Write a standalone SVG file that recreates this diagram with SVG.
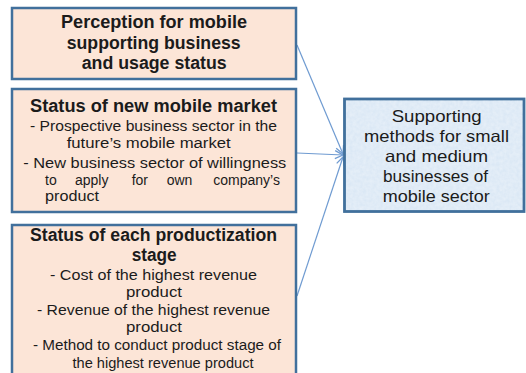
<svg xmlns="http://www.w3.org/2000/svg" width="526" height="373" viewBox="0 0 526 373">
  <style>
    .box { fill: #fce5d7; stroke: #41709c; stroke-width: 2.5; }
    .goal { fill: #dbe8f5; stroke: #41709c; stroke-width: 2.8; }
    text { font-family: "Liberation Sans", Arial, sans-serif; fill: #1b1b1b; }
    .hd { font-size: 17.5px; font-weight: bold; }
    .bd { font-size: 14px; }
    .gl { font-size: 16.5px; }
    .link { stroke: #6f9bd1; stroke-width: 1.2; fill: none; marker-end: url(#arrow); }
  </style>
  <defs>
    <marker id="arrow" markerUnits="userSpaceOnUse" markerWidth="12" markerHeight="12" refX="9" refY="5" orient="auto">
      <path d="M1,1 L9,5 L1,9" fill="none" stroke="#6f9bd1" stroke-width="1.3"/>
    </marker>
    <filter id="grain" x="0" y="0" width="100%" height="100%">
      <feTurbulence type="fractalNoise" baseFrequency="0.3" numOctaves="2" seed="4" result="n"/>
      <feColorMatrix in="n" type="matrix" values="0 0 0 0 1  0 0 0 0 1  0 0 0 0 1  0 0 0 0.7 -0.15"/>
      <feComposite in2="SourceGraphic" operator="in"/>
    </filter>
  </defs>

  <g id="connectors">
    <line class="link" x1="297" y1="45" x2="343" y2="154"/>
    <line class="link" x1="297" y1="153" x2="343" y2="155"/>
    <line class="link" x1="297" y1="296" x2="343" y2="157"/>
  </g>

  <g id="perception">
    <rect class="box" x="12" y="8" width="284" height="71"/>
    <text class="hd" x="61" y="28" textLength="186" lengthAdjust="spacingAndGlyphs">Perception for mobile</text>
    <text class="hd" x="66.7" y="48.5" textLength="174" lengthAdjust="spacingAndGlyphs">supporting business</text>
    <text class="hd" x="81.7" y="69" textLength="145" lengthAdjust="spacingAndGlyphs">and usage status</text>
  </g>

  <g id="new-market">
    <rect class="box" x="12" y="89" width="284" height="123"/>
    <text class="hd" x="30" y="111.5" textLength="247" lengthAdjust="spacingAndGlyphs">Status of new mobile market</text>
    <text class="bd" x="30" y="131" textLength="247" lengthAdjust="spacingAndGlyphs">- Prospective business sector in the</text>
    <text class="bd" x="66.7" y="148" textLength="164" lengthAdjust="spacingAndGlyphs">future’s mobile market</text>
    <text class="bd" x="23.3" y="167.5" textLength="263" lengthAdjust="spacingAndGlyphs">- New business sector of willingness</text>
    <!-- justified line: words placed one by one -->
    <text class="bd" y="184.5"><tspan x="45">to</tspan><tspan x="75">apply</tspan><tspan x="131.7">for</tspan><tspan x="166.7">own</tspan><tspan x="213.3">company’s</tspan></text>
    <text class="bd" x="45" y="201" textLength="54" lengthAdjust="spacingAndGlyphs">product</text>
  </g>

  <g id="productization">
    <rect class="box" x="12" y="225" width="284" height="160"/>
    <text class="hd" x="30" y="241" textLength="247" lengthAdjust="spacingAndGlyphs">Status of each productization</text>
    <text class="hd" x="131.7" y="261" textLength="45" lengthAdjust="spacingAndGlyphs">stage</text>
    <text class="bd" x="50" y="280" textLength="207" lengthAdjust="spacingAndGlyphs">- Cost of the highest revenue</text>
    <text class="bd" x="126" y="296.5" textLength="56" lengthAdjust="spacingAndGlyphs">product</text>
    <text class="bd" x="37" y="315" textLength="233" lengthAdjust="spacingAndGlyphs">- Revenue of the highest revenue</text>
    <text class="bd" x="126" y="332" textLength="56" lengthAdjust="spacingAndGlyphs">product</text>
    <text class="bd" x="33" y="350" textLength="248" lengthAdjust="spacingAndGlyphs">- Method to conduct product stage of</text>
    <text class="bd" x="72.5" y="367.5" textLength="181" lengthAdjust="spacingAndGlyphs">the highest revenue product</text>
  </g>

  <g id="supporting-methods">
    <rect class="goal" x="344.5" y="99" width="179.5" height="112.5"/>
    <rect x="346" y="100.5" width="176.5" height="109.5" fill="#dbe8f5" filter="url(#grain)" opacity="0.7"/>
    <text class="gl" x="391.7" y="121.5" textLength="90" lengthAdjust="spacingAndGlyphs">Supporting</text>
    <text class="gl" x="364" y="141.5" textLength="145" lengthAdjust="spacingAndGlyphs">methods for small</text>
    <text class="gl" x="385" y="161.5" textLength="103" lengthAdjust="spacingAndGlyphs">and medium</text>
    <text class="gl" x="383" y="181.5" textLength="105" lengthAdjust="spacingAndGlyphs">businesses of</text>
    <text class="gl" x="382.7" y="201.5" textLength="107" lengthAdjust="spacingAndGlyphs">mobile sector</text>
  </g>
</svg>
